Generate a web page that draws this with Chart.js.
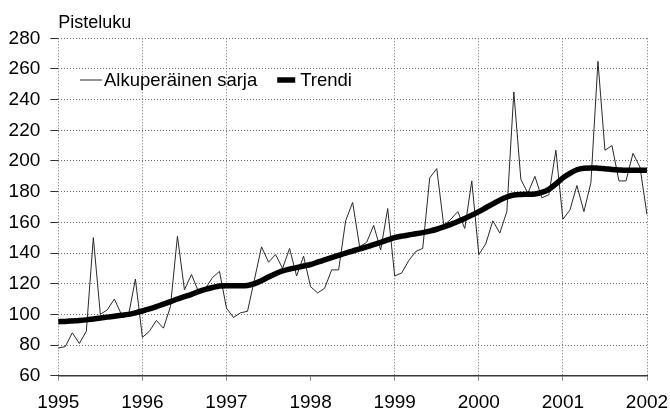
<!DOCTYPE html>
<html>
<head>
<meta charset="utf-8">
<script src="https://cdn.jsdelivr.net/npm/chart.js@4.4.1/dist/chart.umd.min.js"></script>
<style>
  html, body { margin: 0; padding: 0; background: #ffffff; }
  canvas { display: block; }
</style>
</head>
<body>
<canvas id="chart" width="670" height="410"></canvas>
<script>
// ---- data ----
const years = [1995, 1996, 1997, 1998, 1999, 2000, 2001];
const monthCodes = ['01','02','03','04','05','06','07','08','09','10','11','12'];
const lastMonth = '2002-01';
const categories = years.flatMap(y => monthCodes.map(m => y + '-' + m)).concat([lastMonth]);

const seriesNames = ['Alkuperäinen sarja', 'Trendi'];

const originalSeries = [
  78, 79, 88, 81, 89, 150, 100, 103, 110, 100, 99, 123,     // 1995
  85, 89, 96, 91, 105, 151, 116, 126, 115, 117, 124, 128,   // 1996
  104, 98, 101, 102, 123, 144, 134, 139, 130, 143, 125, 138, // 1997
  118, 114, 117, 129, 129, 161, 173, 144, 147, 158, 142, 169, // 1998
  125, 127, 135, 141, 143, 189, 195, 158, 162, 167, 156, 187, // 1999
  139, 146, 161, 153, 167, 245, 188, 179, 190, 176, 178, 207, // 2000
  162, 168, 184, 167, 186, 265, 207, 210, 187, 187, 205, 196, // 2001
  165                                                        // 2002
];

const trendSeries = [
  95.2, 95.4, 95.7, 96, 96.4, 97, 97.6, 98.2, 98.8, 99.4, 100, 101,
  102.2, 103.5, 105, 106.7, 108.3, 110, 111.5, 113, 114.8, 116.3, 117.5, 118.5,
  118.7, 118.7, 118.6, 118.8, 120, 122, 124.3, 126.5, 128.3, 129.5, 130.5, 131.5,
  132.5, 134, 135.5, 137, 138.5, 140, 141.3, 142.7, 144, 145.5, 147, 148.5,
  150, 151, 151.8, 152.5, 153.3, 154.3, 155.5, 157, 158.7, 160.5, 162.5, 164.7,
  167, 169.5, 172, 174.5, 176.5, 177.8, 178.2, 178.3, 178.5, 179.5, 181.5, 185,
  189, 192, 194.3, 195.3, 195.5, 195.3, 195, 194.5, 194.2, 194, 194, 194,
  194
];

const yTicks = [60, 80, 100, 120, 140, 160, 180, 200, 220, 240, 260, 280];
const yTitle = 'Pisteluku';
const yearWithoutGrid = '1998';

// ---- chart ----
const FONT = "'Liberation Sans', Arial, Helvetica, sans-serif";
const GRID = '#6a6a6a';

// legend drawn inside the plot area: line sample + dataset label
const insideLegend = {
  id: 'insideLegend',
  afterDatasetsDraw(chart, args, opts) {
    const { ctx, chartArea } = chart;
    ctx.save();
    ctx.font = opts.fontSize + 'px ' + FONT;
    ctx.textBaseline = 'middle';
    ctx.textAlign = 'left';
    ctx.fillStyle = '#000';
    let x = chartArea.left + opts.offsetX;
    const y = chartArea.top + opts.offsetY;
    chart.data.datasets.forEach((ds, i) => {
      const w = opts.sampleWidths[i];
      ctx.strokeStyle = ds.borderColor;
      ctx.lineWidth = ds.borderWidth;
      ctx.lineCap = 'butt';
      ctx.beginPath();
      ctx.moveTo(x, y);
      ctx.lineTo(x + w, y);
      ctx.stroke();
      x += w + opts.sampleGaps[i];
      ctx.fillText(ds.label, x, y + 1);
      x += ctx.measureText(ds.label).width + opts.itemGap;
    });
    ctx.restore();
  }
};

new Chart(document.getElementById('chart'), {
  type: 'line',
  data: {
    labels: categories,
    datasets: [
      {
        label: seriesNames[0],
        data: originalSeries,
        borderColor: '#2a2a2a',
        borderWidth: 1,
        pointRadius: 0,
        tension: 0,
        fill: false,
        order: 1
      },
      {
        label: seriesNames[1],
        data: trendSeries,
        borderColor: '#000000',
        borderWidth: 5.5,
        pointRadius: 0,
        cubicInterpolationMode: 'monotone',
        fill: false,
        order: 0
      }
    ]
  },
  plugins: [insideLegend],
  options: {
    responsive: false,
    animation: false,
    events: [],
    layout: { padding: { top: 0, left: 0, right: 23, bottom: 0 } },
    plugins: {
      tooltip: { enabled: false },
      legend: { display: false },
      insideLegend: {
        fontSize: 18.5,
        offsetX: 21.7,
        offsetY: 41.7,
        sampleWidths: [22, 18],
        sampleGaps: [2, 5],
        itemGap: 20
      },
      title: {
        display: true,
        text: yTitle,
        align: 'start',
        fullSize: false,
        color: '#000',
        font: { family: FONT, size: 18, weight: 'normal', lineHeight: 1.2 },
        padding: { top: 12, bottom: 4.7 }
      }
    },
    scales: {
      x: {
        type: 'category',
        offset: false,
        afterFit: (scale) => {
          scale.height = 34.3;
          scale.paddingLeft = 0;
          scale.paddingRight = 0;
        },
        border: { display: true, color: '#3a3a3a', width: 1.5, dash: [1, 2] },
        grid: {
          drawOnChartArea: true,
          tickLength: 5,
          color: (ctx) => (ctx.tick && ctx.tick.label === yearWithoutGrid) ? 'rgba(0,0,0,0)' : GRID,
          tickColor: '#888',
          tickBorderDash: [],
          lineWidth: 1
        },
        ticks: {
          autoSkip: false,
          maxRotation: 0,
          minRotation: 0,
          padding: 11,
          color: '#000',
          font: { family: FONT, size: 19 },
          callback: function (value) {
            const lab = this.getLabelForValue(value);
            return lab.endsWith('-01') ? lab.slice(0, 4) : null;
          }
        }
      },
      y: {
        min: yTicks[0],
        max: yTicks[yTicks.length - 1],
        afterFit: (scale) => { scale.width = 58.3; },
        afterBuildTicks: (scale) => { scale.ticks = yTicks.map(v => ({ value: v })); },
        border: { display: false, dash: [1, 2] },
        grid: {
          color: GRID,
          lineWidth: 1,
          tickLength: 8,
          tickColor: '#333',
          tickBorderDash: []
        },
        ticks: {
          padding: 10,
          color: '#000',
          font: { family: FONT, size: 19 }
        }
      }
    }
  }
});
</script>
</body>
</html>
